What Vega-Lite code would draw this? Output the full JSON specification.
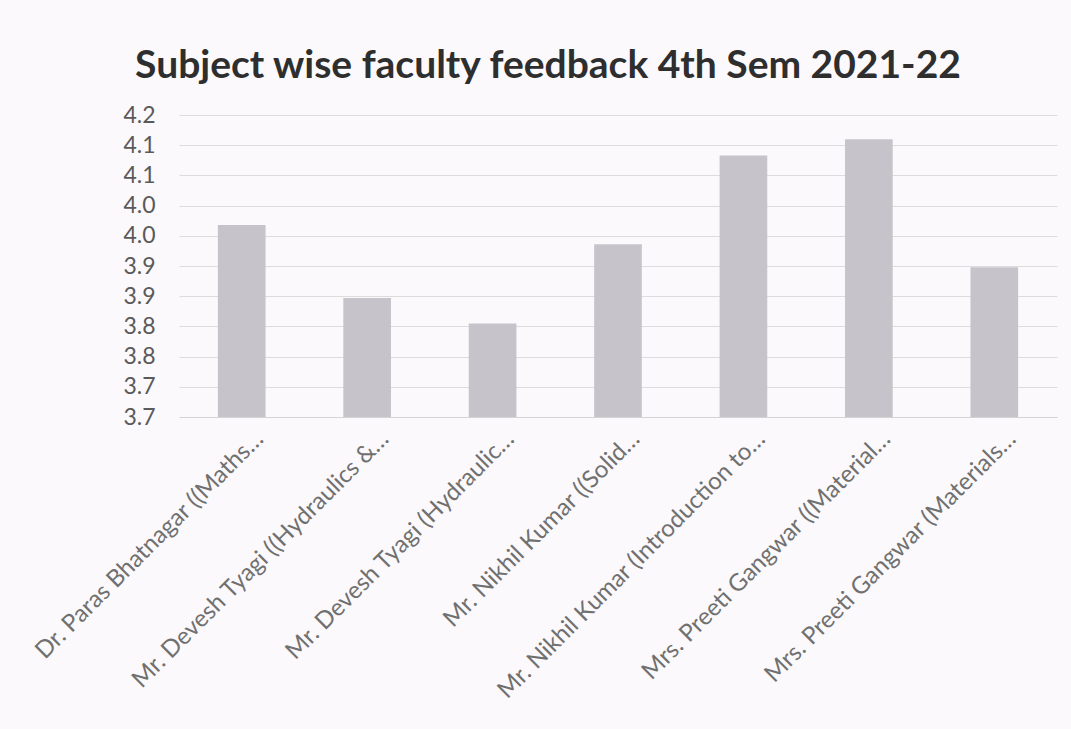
{
  "$schema": "https://vega.github.io/schema/vega-lite/v6.json",
  "autosize": "none",
  "width": 878,
  "height": 302,
  "padding": {"left": 179, "top": 115, "right": 14, "bottom": 312},
  "background": "#fbf9fb",
  "title": {
    "text": "Subject wise faculty feedback 4th Sem 2021-22",
    "font": "Lato",
    "fontSize": 39,
    "fontWeight": "bold",
    "color": "#2e2e2e",
    "anchor": "middle",
    "dx": -70,
    "offset": 18
  },
  "data": {
    "values": [
      {"faculty": "Dr. Paras Bhatnagar ((Maths…", "score": 3.968},
      {"faculty": "Mr. Devesh Tyagi ((Hydraulics &…", "score": 3.847},
      {"faculty": "Mr. Devesh Tyagi (Hydraulic…", "score": 3.805},
      {"faculty": "Mr. Nikhil Kumar ((Solid…", "score": 3.936},
      {"faculty": "Mr. Nikhil Kumar (Introduction to…", "score": 4.083},
      {"faculty": "Mrs. Preeti Gangwar ((Material…", "score": 4.110},
      {"faculty": "Mrs. Preeti Gangwar (Materials…", "score": 3.898}
    ]
  },
  "mark": {"type": "bar", "color": "#c6c4ca", "clip": true},
  "encoding": {
    "x": {
      "field": "faculty",
      "type": "nominal",
      "sort": null,
      "scale": {"paddingInner": 0.62, "paddingOuter": 0.31},
      "axis": {
        "title": null,
        "labelAngle": -45,
        "labelAlign": "right",
        "labelBaseline": "middle",
        "labelFont": "Lato",
        "labelFontSize": 24,
        "labelColor": "#707070",
        "labelLimit": 0,
        "labelPadding": 18,
        "labelOffset": 18,
        "ticks": false,
        "domain": true,
        "domainColor": "#d4d4d4",
        "labelOverlap": false
      }
    },
    "y": {
      "field": "score",
      "type": "quantitative",
      "scale": {"domain": [3.65, 4.15], "zero": false, "nice": false},
      "axis": {
        "title": null,
        "values": [3.65, 3.7, 3.75, 3.8, 3.85, 3.9, 3.95, 4.0, 4.05, 4.1, 4.15],
        "labelExpr": "format(round(datum.value * 10 + 0.001) / 10, '.1f')",
        "labelFont": "Lato",
        "labelFontSize": 23,
        "labelColor": "#5a5a5a",
        "labelPadding": 24,
        "ticks": false,
        "domain": false,
        "grid": true,
        "gridColor": "#dcdcdc",
        "gridWidth": 1
      }
    }
  },
  "config": {"view": {"stroke": null}}
}
